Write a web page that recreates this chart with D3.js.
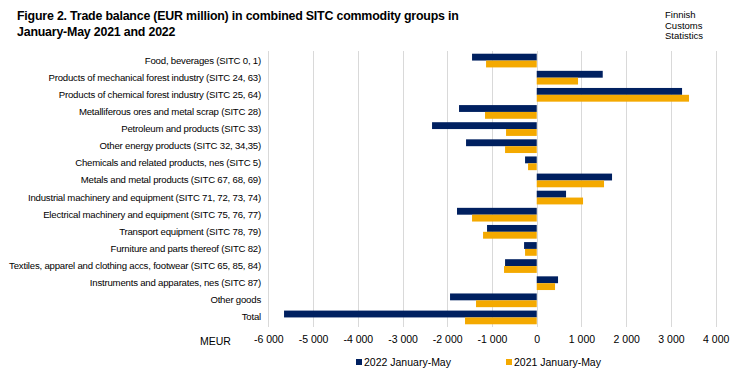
<!DOCTYPE html>
<html><head><meta charset="utf-8">
<script src="https://cdn.jsdelivr.net/npm/d3@7"></script>
<style>
body{margin:0;background:#fff;}
svg{display:block;font-family:"Liberation Sans",Arial,sans-serif;}
</style></head><body>
<svg id="c" width="737" height="378"></svg>
<script>
const categories = [
  "Food, beverages (SITC 0, 1)",
  "Products of mechanical forest industry (SITC 24, 63)",
  "Products of chemical forest industry (SITC 25, 64)",
  "Metalliferous ores and metal scrap (SITC 28)",
  "Petroleum and products (SITC 33)",
  "Other energy products (SITC 32, 34,35)",
  "Chemicals and related products, nes (SITC 5)",
  "Metals and metal products (SITC 67, 68, 69)",
  "Industrial machinery and equipment (SITC 71, 72, 73, 74)",
  "Electrical machinery and equipment (SITC 75, 76, 77)",
  "Transport equipment (SITC 78, 79)",
  "Furniture and parts thereof (SITC 82)",
  "Textiles, apparel and clothing accs, footwear (SITC 65, 85, 84)",
  "Instruments and apparates, nes (SITC 87)",
  "Other goods",
  "Total"
];
const values2022 = [-1446, 1475, 3248, -1737, -2340, -1580, -261, 1683, 655, -1782, -1111, -283, -708, 476, -1938, -5648];
const values2021 = [-1133, 923, 3404, -1156, -686, -708, -194, 1504, 1035, -1446, -1200, -261, -731, 409, -1357, -1603];
const seriesNames = ["2022 January-May", "2021 January-May"];
const tickValues = [-6000,-5000,-4000,-3000,-2000,-1000,0,1000,2000,3000,4000];
const colors = ["#002060", "#F4A900"];

const svg = d3.select("#c");
const x = d3.scaleLinear().domain([-6000, 4000]).range([268.3, 715.7]);
const y = d3.scaleBand().domain(categories).range([52, 326]);
const sub = d3.scaleBand().domain([0,1]).range([0, y.bandwidth()]).paddingOuter(0.25).paddingInner(0);

// Title
const t = svg.append("g").attr("font-weight","bold").attr("font-size","12.4px").attr("fill","#000").attr("letter-spacing","-0.2px");
t.append("text").attr("x",17).attr("y",20).text("Figure 2. Trade balance (EUR million) in combined SITC commodity groups in");
t.append("text").attr("x",17).attr("y",36).text("January-May 2021 and 2022");
const src = svg.append("g").attr("font-size","9.5px").attr("fill","#000");
["Finnish","Customs","Statistics"].forEach((s,i)=>src.append("text").attr("x",665).attr("y",18+i*10.7).text(s));

// Grid
svg.append("g").selectAll("line").data(tickValues).join("line")
  .attr("x1",d=>Math.round(x(d))+0.5).attr("x2",d=>Math.round(x(d))+0.5)
  .attr("y1",51).attr("y2",327).attr("stroke","#d9d9d9").attr("stroke-width",1);

// Bars
const series = [values2022, values2021];
series.forEach((vals, si) => {
  svg.append("g").selectAll("rect").data(categories).join("rect")
    .attr("x", (d,i)=>x(Math.min(0, vals[i])))
    .attr("width", (d,i)=>Math.abs(x(vals[i]) - x(0)))
    .attr("y", d=>y(d) + sub(si))
    .attr("height", sub.bandwidth())
    .attr("fill", colors[si]);
});

// Category labels
svg.append("g").attr("font-size","9.6px").attr("fill","#000").attr("text-anchor","end")
  .selectAll("text").data(categories).join("text")
  .attr("x",261).attr("y",d=>y(d)+y.bandwidth()/2+3)
  .attr("letter-spacing","-0.2px")
  .text(d=>d);

// X axis
const xAxis = d3.axisBottom(x).tickValues(tickValues).tickSize(0).tickPadding(0);
const ax = svg.append("g").attr("transform","translate(0,336)").call(xAxis);
ax.select(".domain").remove();
ax.selectAll("text").attr("font-size","10.5px").attr("font-family","Liberation Sans, Arial, sans-serif").attr("fill","#000").attr("dy","0.71em")
  .text(d => (d<0?"-":"") + d3.format(",")(Math.abs(d)).replace(/,/g," "));
svg.append("text").attr("x",200).attr("y",345).attr("font-size","10.5px").text("MEUR");

// Legend
const leg = svg.append("g").attr("font-size","10.5px");
[[356,0],[506,1]].forEach(([lx,si])=>{
  leg.append("rect").attr("x",lx).attr("y",359).attr("width",6).attr("height",6).attr("fill",colors[si]);
  leg.append("text").attr("x",lx+8).attr("y",366).text(seriesNames[si]);
});
</script>
</body></html>
